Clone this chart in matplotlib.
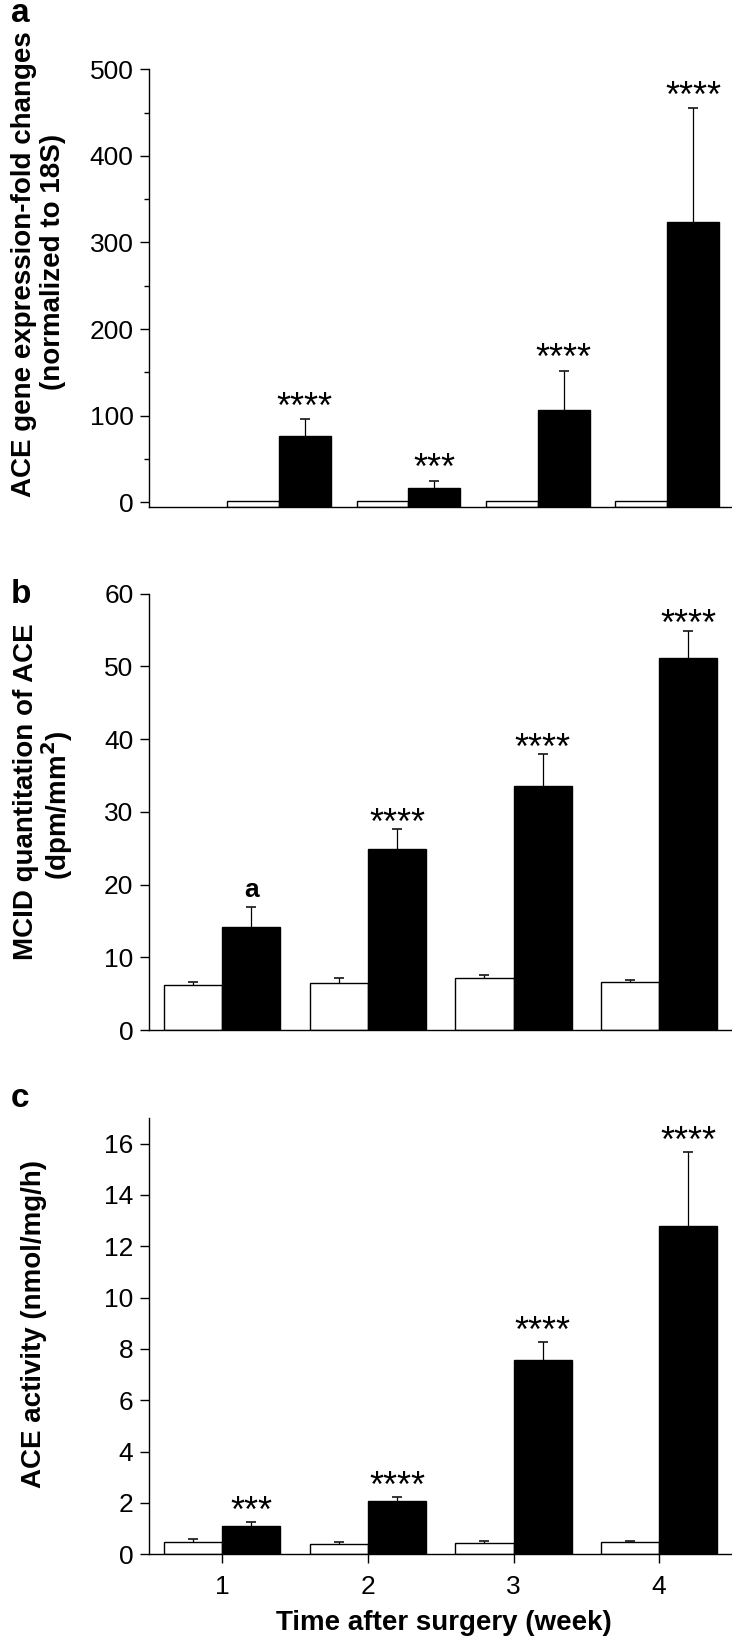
import matplotlib
matplotlib.use("Agg")
import matplotlib.pyplot as plt
from matplotlib.ticker import MultipleLocator
import numpy as np

plt.rcParams['font.family'] = ['Liberation Sans', 'DejaVu Sans']

# ---------------- data ----------------
weeks = [1, 2, 3, 4]
week_labels = ["1", "2", "3", "4"]

# panel a: ACE gene expression fold changes
a_ctrl = [2, 2, 2, 2]
a_ctrl_err = [0, 0, 0, 0]
a_trt = [76, 16, 106, 324]
a_trt_err = [20, 9, 46, 131]
a_sig = ["****", "***", "****", "****"]

# panel b: MCID quantitation of ACE
b_ctrl = [6.2, 6.5, 7.1, 6.6]
b_ctrl_err = [0.4, 0.7, 0.5, 0.3]
b_trt = [14.2, 24.9, 33.5, 51.1]
b_trt_err = [2.7, 2.7, 4.4, 3.8]
b_sig = ["a", "****", "****", "****"]

# panel c: ACE activity
c_ctrl = [0.46, 0.39, 0.45, 0.49]
c_ctrl_err = [0.15, 0.09, 0.06, 0.03]
c_trt = [1.09, 2.06, 7.59, 12.80]
c_trt_err = [0.17, 0.18, 0.70, 2.87]
c_sig = ["***", "****", "****", "****"]

# ---------------- layout ----------------
W, H = 732, 1644
fig = plt.figure(figsize=(W / 100, H / 100), dpi=100)


def px_axes(left, top, right, bottom):
    return fig.add_axes([left / W, 1 - bottom / H, (right - left) / W, (bottom - top) / H])


def ftext(x, y, s, **kw):
    fig.text(x / W, 1 - y / H, s, **kw)


def up_errorbar(ax, x, y, e):
    cont = ax.errorbar(x, y, yerr=[np.zeros(len(e)), e], fmt="none",
                       ecolor="black", elinewidth=0.9, capsize=3.6, capthick=1.1,
                       zorder=1)
    caps = cont.lines[1]
    if len(caps) == 2:
        caps[0].set_visible(False)


def panel(ax, xlim, ylim, ctrl, ctrl_err, trt, trt_err, sig, yticks, minor=None,
          show_x=False, sig_off=0):
    x = np.array(weeks, dtype=float)
    base = ylim[0]
    bw = 0.4
    ctrl = np.array(ctrl, dtype=float)
    trt = np.array(trt, dtype=float)
    ax.bar(x - bw / 2, ctrl - base, bottom=base, width=bw, color="white",
           edgecolor="black", linewidth=1.0, zorder=2)
    ax.bar(x + bw / 2, trt - base, bottom=base, width=bw, color="black",
           edgecolor="black", linewidth=1.0, zorder=2)
    ce = np.array(ctrl_err, dtype=float)
    te = np.array(trt_err, dtype=float)
    m = ce > 0
    if m.any():
        up_errorbar(ax, (x - bw / 2)[m], ctrl[m], ce[m])
    up_errorbar(ax, x + bw / 2, trt, te)
    for xi, t, e, s in zip(x, trt, te, sig):
        if s == "a":
            ax.annotate(s, xy=(xi + bw / 2, t + e), xytext=(0, 10.5 + sig_off),
                        textcoords="offset points", ha="center", va="baseline",
                        fontsize=19, fontweight="bold")
        else:
            ax.annotate(s, xy=(xi + bw / 2, t + e), xytext=(0, 0 + sig_off),
                        textcoords="offset points", ha="center", va="baseline",
                        fontsize=26)
    ax.set_xlim(*xlim)
    ax.set_ylim(*ylim)
    ax.set_yticks(yticks)
    ax.set_yticklabels([str(v) for v in yticks])
    if minor is not None:
        ax.yaxis.set_minor_locator(MultipleLocator(minor))
    for sp in ("top", "right"):
        ax.spines[sp].set_visible(False)
    for sp in ("left", "bottom"):
        ax.spines[sp].set_linewidth(1.0)
    ax.tick_params(axis="y", which="major", direction="out", length=6.7, width=1.0,
                   labelsize=19, pad=4.8)
    ax.tick_params(axis="y", which="minor", direction="out", length=3.6, width=1.0)
    if show_x:
        ax.set_xticks(weeks)
        ax.set_xticklabels(week_labels)
        ax.tick_params(axis="x", direction="out", length=6.5, width=1.0,
                       labelsize=19, pad=8.4)
    else:
        ax.set_xticks([])
    ax.set_facecolor("none")


ax_a = px_axes(149.4, 69.3, 732, 506.6)
panel(ax_a, (0, 4.5), (-5, 500), a_ctrl, a_ctrl_err, a_trt, a_trt_err, a_sig,
      [0, 100, 200, 300, 400, 500], minor=50, sig_off=1)

ax_b = px_axes(149.4, 593.7, 732, 1030.0)
panel(ax_b, (0.5, 4.5), (0, 60), b_ctrl, b_ctrl_err, b_trt, b_trt_err, b_sig,
      [0, 10, 20, 30, 40, 50, 60], sig_off=-3)

ax_c = px_axes(149.4, 1118.0, 732, 1554.3)
panel(ax_c, (0.5, 4.5), (0, 17), c_ctrl, c_ctrl_err, c_trt, c_trt_err, c_sig,
      [0, 2, 4, 6, 8, 10, 12, 14, 16], show_x=True, sig_off=0)

# panel letters
lab_kw = dict(fontsize=24, fontweight="bold", ha="left", va="baseline")
ftext(11, 21.6, "a", **lab_kw)
ftext(11, 603.3, "b", **lab_kw)
ftext(11, 1106.6, "c", **lab_kw)

# axis titles
yl_kw = dict(fontsize=20, fontweight="bold", rotation=90, ha="center", va="center")
ftext(24.5, 264.5, "ACE gene expression-fold changes", **yl_kw)
ftext(53.0, 262.0, "(normalized to 18S)", **yl_kw)
ftext(25.7, 792.0, "MCID quantitation of ACE", **yl_kw)
ftext(57.0, 805.0, "(dpm/mm$^{\\mathbf{2}}$)", **yl_kw)
ftext(34.0, 1324.0, "ACE activity (nmol/mg/h)", **yl_kw)
ftext(443.6, 1623.0, "Time after surgery (week)", fontsize=20, fontweight="bold",
      ha="center", va="center")

fig.savefig("out.png", dpi=100)
